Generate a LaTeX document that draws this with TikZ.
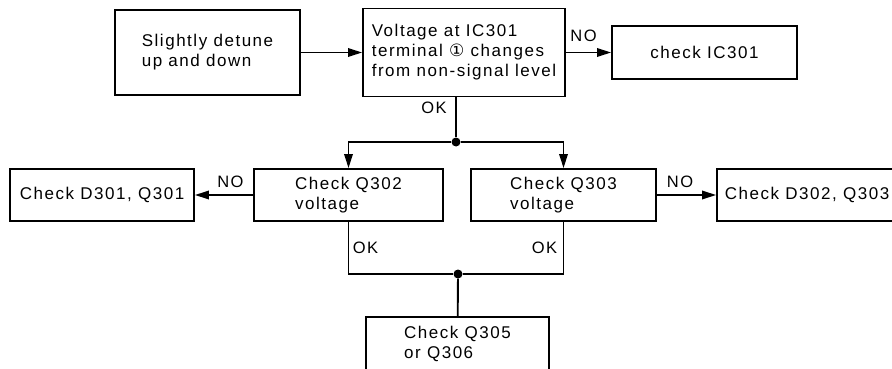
\documentclass[tikz,border=0pt]{standalone}
\usepackage{fontspec}
\setmainfont{Liberation Sans}[LetterSpace=9]
\newfontfamily\circfont{DejaVu Sans}
\usetikzlibrary{arrows.meta}

\tikzset{
  box/.style={draw,line width=1.9pt,align=left,inner sep=0pt,
    minimum height=52pt,font=\fontsize{17}{20}\selectfont},
  conn/.style={line width=1.9pt},
  arr/.style={conn,-{Triangle[length=14pt,width=8.5pt]}},
  lbl/.style={font=\fontsize{16.5}{18}\selectfont},
  dot/.style={circle,fill,inner sep=0pt,minimum size=9pt},
}

\begin{document}
\begin{tikzpicture}[x=1pt,y=-1pt]
      \useasboundingbox (0,0) rectangle (892,369);

      % top row
      \node[box,minimum width=185pt,minimum height=85pt] (detune) at (207.5,52.5)
        {Slightly detune\\up and down};
      \node[box,minimum width=202pt,minimum height=88pt] (ic) at (464,52.5)
        {Voltage at IC301\\terminal {\circfont ①} changes\\from non-signal level};
      \node[box,minimum width=185pt,minimum height=53pt] (chkic) at (704.5,52.5)
        {check IC301};

      % middle row
      \node[box,minimum width=184pt] (d301) at (102,195) {Check D301, Q301};
      \node[box,minimum width=189pt] (q302) at (348.5,195) {Check Q302\\voltage};
      \node[box,minimum width=185pt] (q303) at (563.5,195) {Check Q303\\voltage};
      \node[box,minimum width=180pt] (d302) at (807,195) {Check D302, Q303};

      % bottom
      \node[box,minimum width=183pt,minimum height=54pt] (q305) at (457.5,344)
        {Check Q305\\or Q306};

      % junctions
      \node[dot] (j1) at (456,142) {};
      \node[dot] (j2) at (458,274) {};

      \draw[arr] (detune) -- (ic);
      \draw[arr] (ic) -- node[lbl,above=7pt,pos=0.39]{NO} (chkic);
      \draw[conn] (j1 |- ic.south) -- node[lbl,left=5pt,pos=0.25]{OK} (j1);

      \draw[arr] (j1) -| (q302);
      \draw[arr] (j1) -| (q303);

      \draw[arr] (q302) -- node[lbl,above=3.4pt,pos=0.39]{NO} (d301);
      \draw[arr] (q303) -- node[lbl,above=3.4pt,pos=0.39]{NO} (d302);

      % OK branches join
      \draw[conn] (q302.south) |- node[lbl,right,pos=0.25]{OK} (j2);
      \draw[conn] (j2) -| node[lbl,left=2pt,pos=0.75]{OK} (q303.south);
      \draw[conn] (j2) -- (q305);
    \end{tikzpicture}
\end{document}
